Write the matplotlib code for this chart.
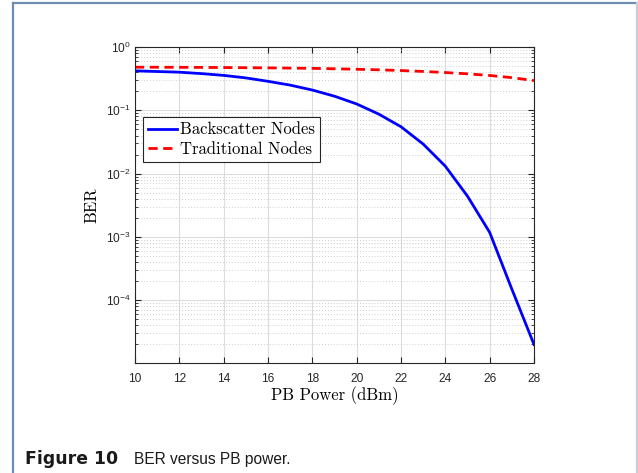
import numpy as np
import matplotlib
matplotlib.use("Agg")
import matplotlib.pyplot as plt
from matplotlib.lines import Line2D
from matplotlib.ticker import LogLocator, NullFormatter, MultipleLocator

# values
pb_power = [10, 11, 12, 13, 14, 15, 16, 17, 18, 19, 20, 21, 22, 23, 24, 25, 26, 27, 28]
ber_backscatter = [0.42, 0.41, 0.40, 0.38, 0.356, 0.325, 0.287, 0.25, 0.209, 0.167,
                   0.126, 0.087, 0.055, 0.0293, 0.0131, 0.0044, 0.00118, 1.5e-4, 2.0e-5]
ber_traditional = [0.48, 0.479, 0.478, 0.476, 0.474, 0.471, 0.468, 0.464, 0.46, 0.453,
                   0.445, 0.436, 0.425, 0.411, 0.395, 0.377, 0.355, 0.328, 0.295]
series_names = ["Backscatter Nodes", "Traditional Nodes"]
y_ticks = [1e-4, 1e-3, 1e-2, 1e-1, 1e0]
y_tick_labels = [r"$\mathregular{10^{-4}}$", r"$\mathregular{10^{-3}}$", r"$\mathregular{10^{-2}}$",
                 r"$\mathregular{10^{-1}}$", r"$\mathregular{10^{0}}$"]
x_label = "PB Power (dBm)"
y_label = "BER"

plt.rcParams["font.family"] = ["Liberation Sans", "DejaVu Sans"]
plt.rcParams["mathtext.default"] = "regular"
serif = ["cmr10", "DejaVu Serif"]
dash = (0, (3.3, 2.0))

fig = plt.figure(figsize=(6.38, 4.73), dpi=100)
ax = fig.add_axes([135 / 638, 1 - 363 / 473, 399 / 638, 316 / 473])

ax.plot(pb_power, ber_backscatter, color="#0000ff", lw=2.0, label=series_names[0])
ax.plot(pb_power, ber_traditional, color="#ff0000", lw=2.0, ls=dash, label=series_names[1])

ax.set_yscale("log")
ax.set_xlim(10, 28)
ax.set_ylim(1.02e-5, 1)
ax.xaxis.set_major_locator(MultipleLocator(2))
ax.set_yticks(y_ticks)
ax.set_yticklabels(y_tick_labels)
ax.yaxis.set_minor_locator(LogLocator(base=10, subs=np.arange(2, 10), numticks=20))
ax.yaxis.set_minor_formatter(NullFormatter())

ax.grid(True, which="major", color="#dcdcdc", lw=0.8, ls="-")
ax.grid(True, which="minor", axis="y", color="#bdbdbd", lw=0.6, ls=(0, (1, 2.5)))
ax.set_axisbelow(True)

for sp in ax.spines.values():
    sp.set_color("#262626")
    sp.set_linewidth(0.8)
ax.tick_params(which="both", direction="in", top=True, right=True, colors="#262626",
               labelsize=8.6)
ax.tick_params(which="major", length=4, width=0.8)
ax.tick_params(which="minor", length=2.2, width=0.6)
ax.tick_params(axis="x", pad=7)
ax.tick_params(axis="y", pad=3)

ax.set_xlabel(x_label, family=serif, fontsize=12, labelpad=1)
ax.set_ylabel(y_label, family=serif, fontsize=12, labelpad=5)

handles = [Line2D([], [], color="#0000ff", lw=2.0),
           Line2D([], [], color="#ff0000", lw=2.0, ls=dash)]
leg = ax.legend(handles, series_names, loc="upper left", bbox_to_anchor=(0.019, 0.778),
                prop={"family": serif, "size": 12}, fancybox=False, framealpha=1,
                edgecolor="#262626", handlelength=1.75, handletextpad=0.2,
                borderpad=0.3, labelspacing=0.25, borderaxespad=0)
leg.get_frame().set_linewidth(0.8)

# page border and caption
fig.add_artist(Line2D([13 / 638, 1], [1 - 3 / 473, 1 - 3 / 473], color="#6f8db0", lw=1.6))
fig.add_artist(Line2D([13 / 638, 13 / 638], [0, 1 - 3 / 473], color="#6f8db0", lw=1.6))
fig.add_artist(Line2D([637 / 638, 637 / 638], [0, 1 - 3 / 473], color="#c8ced6", lw=1.6))

fig.text(25 / 638, 1 - 464 / 473, "Figure 10", fontsize=12.4, weight="bold",
         family=["DejaVu Sans"], va="baseline", color="#1a1a1a")
fig.text(134 / 638, 1 - 464 / 473, "BER versus PB power.", fontsize=11.2,
         family=["Liberation Sans", "DejaVu Sans"], va="baseline", color="#1a1a1a")

fig.savefig("out.png", dpi=100)
